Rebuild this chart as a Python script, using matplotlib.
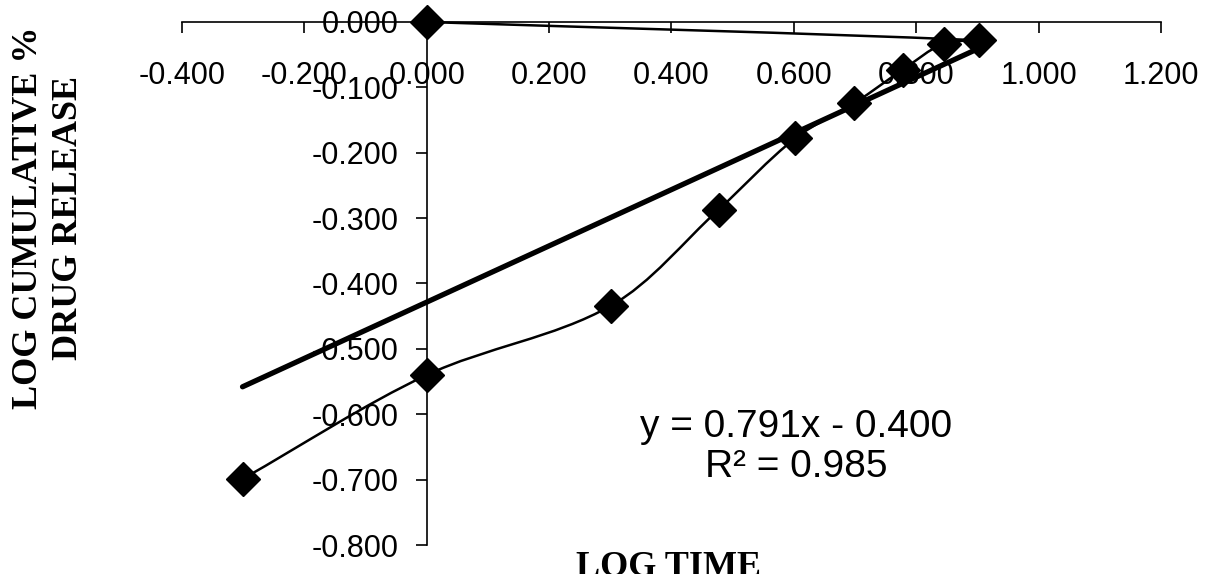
import matplotlib
matplotlib.use("Agg")
import matplotlib.pyplot as plt
import numpy as np
from matplotlib.path import Path
from matplotlib.patches import PathPatch
from matplotlib.ticker import FormatStrFormatter

# data
log_time = [-0.301, 0.000, 0.301, 0.477, 0.602, 0.699, 0.778, 0.845, 0.903, 0.000]
log_release = [-0.699, -0.540, -0.434, -0.287, -0.178, -0.124, -0.073, -0.033, -0.028, 0.000]
trend_x = [-0.301, 0.903]
trend_y = [-0.558, -0.040]
x_ticks = [-0.4, -0.2, 0.0, 0.2, 0.4, 0.6, 0.8, 1.0, 1.2]
y_ticks = [-0.8, -0.7, -0.6, -0.5, -0.4, -0.3, -0.2, -0.1, 0.0]
equation = "y = 0.791x - 0.400\nR² = 0.985"


def smooth_path(xs, ys, k=0.33):
    # smoothed line like Excel: bezier per segment, handle length tied to
    # the segment length so short segments don't overshoot
    pts = np.column_stack([xs, ys])
    n = len(pts)

    def tangent(i):
        a = pts[max(i - 1, 0)]
        b = pts[min(i + 1, n - 1)]
        d = b - a
        return d / np.hypot(*d)

    verts = [pts[0]]
    codes = [Path.MOVETO]
    for i in range(n - 1):
        p1, p2 = pts[i], pts[i + 1]
        seg = np.hypot(*(p2 - p1))
        verts += [p1 + tangent(i) * seg * k, p2 - tangent(i + 1) * seg * k, p2]
        codes += [Path.CURVE4] * 3
    return Path(verts, codes)


fig = plt.figure(figsize=(12.09, 5.74), dpi=100)
ax = fig.add_axes([0.1505, 0.0505, 0.8098, 0.9112])
ax.set_xlim(-0.4, 1.2)
ax.set_ylim(-0.8, 0.0)

for side in ["top", "right"]:
    ax.spines[side].set_visible(False)
ax.spines["left"].set_position(("data", 0))
ax.spines["bottom"].set_position(("data", 0))
for side in ["left", "bottom"]:
    ax.spines[side].set_linewidth(1.2)

ax.set_xticks(x_ticks)
ax.set_yticks(y_ticks)
ax.xaxis.set_major_formatter(FormatStrFormatter("%.3f"))
ax.yaxis.set_major_formatter(FormatStrFormatter("%.3f"))
ax.tick_params(axis="x", direction="out", length=8, width=1.2, pad=20,
               labelsize=22)
ax.tick_params(axis="y", direction="out", length=8, width=1.2, pad=12,
               labelsize=22)
for lab in ax.get_xticklabels() + ax.get_yticklabels():
    lab.set_family("Liberation Sans")

ax.add_patch(PathPatch(smooth_path(log_time, log_release), facecolor="none",
                       edgecolor="black", lw=1.8, zorder=3, clip_on=False))
ax.plot(trend_x, trend_y, color="black", lw=3.8, zorder=3,
        solid_capstyle="round", clip_on=False)
ax.plot(log_time, log_release, linestyle="none", marker="D", markersize=17,
        color="black", zorder=4, clip_on=False)

ax.text(0.604, -0.650, equation, ha="center", va="center", fontsize=28,
        family="Liberation Sans", linespacing=1.15)

fig.text(0.553, -0.018, "LOG TIME", ha="center", va="bottom", fontsize=26,
         family="Liberation Serif", weight="bold")
fig.text(0.040, 0.62, "LOG CUMULATIVE %\nDRUG RELEASE", ha="center",
         va="center", rotation=90, fontsize=26, family="Liberation Serif",
         weight="bold", linespacing=1.3)

fig.savefig("out.png", dpi=100)
